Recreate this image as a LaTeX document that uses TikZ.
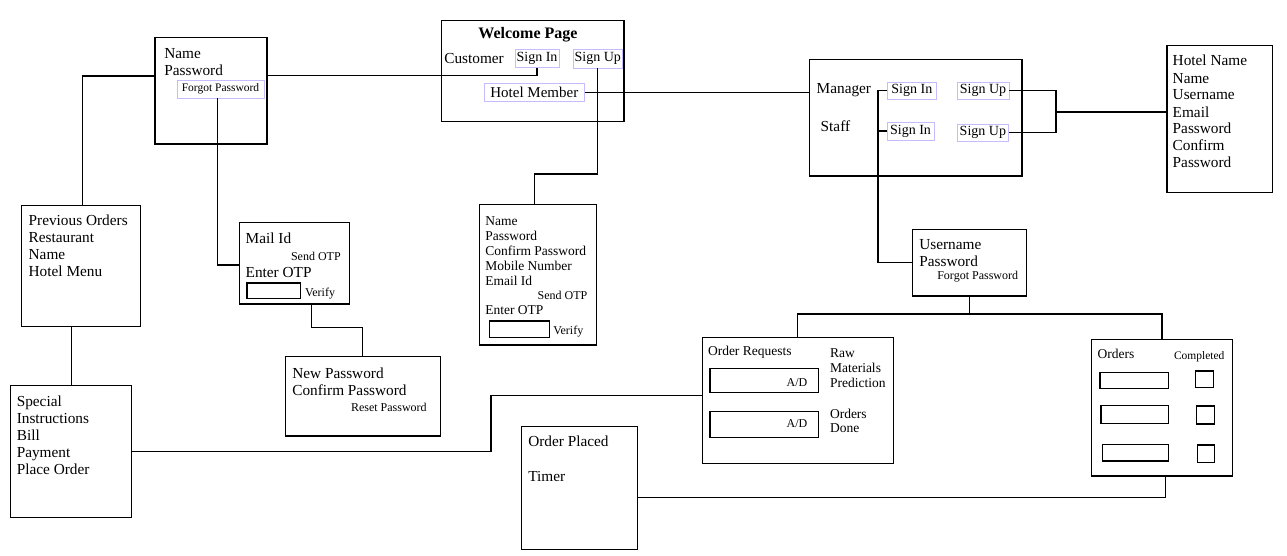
\documentclass[tikz,border=0pt]{standalone}
\usepackage{fontspec}
\setmainfont{Liberation Serif}
\newcommand{\fs}[2]{\fontsize{#1}{#2}\selectfont}
\definecolor{lav}{RGB}{196,188,255}
\newcommand{\mybox}[7]{\node[#1, minimum width={#5pt-#3pt}, minimum height={#6pt-#4pt}] (#2) at ({(#3+#5)/2},{(#4+#6)/2}) {#7};}
\tikzset{
  box/.style={draw=black, line width=1.2pt, inner sep=0pt, outer sep=0pt},
  pbox/.style={draw=lav, line width=0.9pt, inner sep=0pt, outer sep=0pt, font=\fs{14}{16}},
  pboxs/.style={pbox, font=\fs{11.5}{13}},
  wire/.style={line width=1.2pt, draw=black},
  txt/.style={anchor=base west, inner sep=0pt, outer sep=0pt, align=left, font=\fs{15.3}{17}},
  txtm/.style={txt, font=\fs{13.5}{15}},
  txts/.style={txt, font=\fs{12}{14}},
  txtse/.style={txts, anchor=base east},
}
\begin{document}
\begin{tikzpicture}[x=1pt, y=-1pt]
\fill[white] (0,0) rectangle (1287,556);
\useasboundingbox (0,0) rectangle (1287,556);

% boxes
\mybox{box}{login}{155}{37.7}{267}{144}{}
\mybox{pboxs}{fpw}{177}{80}{264}{98}{Forgot Password}
\mybox{box}{welcome}{441.7}{20.3}{624}{121.7}{}
\mybox{pbox}{wsi}{515}{49}{559}{67.7}{Sign In}
\mybox{pbox}{wsu}{573.7}{49}{622}{68}{Sign Up}
\mybox{pbox}{hm}{484}{83}{584.7}{101.7}{\fs{15}{17}Hotel Member}
\mybox{box}{mgr}{809.3}{59.3}{1022}{176}{}
\mybox{pbox}{msi}{887}{82}{936.7}{99.3}{Sign In}
\mybox{pbox}{msu}{957}{82}{1009}{99.3}{Sign Up}
\mybox{pbox}{ssi}{887}{122}{934}{140}{Sign In}
\mybox{pbox}{ssu}{957}{124}{1008.7}{141}{Sign Up}
\mybox{box}{hreg}{1167}{45.3}{1272.7}{192.3}{}
\mybox{box}{prev}{21.3}{205.3}{140.7}{326.3}{}
\mybox{box}{spec}{10.7}{385.5}{131.7}{517.3}{}
\mybox{box}{mail}{239.3}{222.7}{349.3}{304}{}
\mybox{box}{otpin}{247}{283}{300.3}{298.3}{}
\mybox{box}{newpw}{285.3}{356.7}{440.3}{436}{}
\mybox{box}{reg}{479.3}{204.3}{596.7}{345}{}
\mybox{box}{regin}{489.3}{321}{549.3}{337.3}{}
\mybox{box}{user}{912.3}{229.3}{1026.7}{296}{}
\mybox{box}{oreq}{702.3}{337.7}{893.3}{463.3}{}
\mybox{box}{ad1}{710}{368.3}{818.3}{392.3}{}
\mybox{box}{ad2}{710}{411.3}{818.3}{437.3}{}
\mybox{box}{orders}{1091.7}{339.3}{1232.3}{476}{}
\mybox{box}{r1}{1100}{372.3}{1168.3}{388.3}{}
\mybox{box}{r2}{1101}{405.3}{1168.3}{423.3}{}
\mybox{box}{r3}{1102.3}{444.3}{1168.3}{461}{}
\mybox{box}{s1}{1195.3}{371}{1213.3}{387.3}{}
\mybox{box}{s2}{1196.3}{406}{1214.3}{424}{}
\mybox{box}{s3}{1197.3}{445}{1214.3}{462.3}{}
\mybox{box}{oplaced}{521.3}{426.3}{637.3}{549.3}{}

% texts (base anchor = baseline of last line)
\node[txt] (tlogin) at (164.3,75.3) {Name\\Password};
\node[anchor=base, inner sep=0pt, font=\bfseries\fs{16}{18}] (twelcome) at (528,38.3) {Welcome Page};
\node[txt] (tcust) at (444.3,63.3) {Customer};
\node[txt] (tmgr) at (816.7,94) {Manager};
\node[txt] (tstaff) at (820.7,132) {Staff};
\node[txt] (threg) at (1172.7,168) {Hotel Name\\Name\\Username\\Email\\Password\\Confirm\\Password};
\node[txt] (tprev) at (28.7,276) {Previous Orders\\Restaurant\\Name\\Hotel Menu};
\node[txt] (tspec) at (16.8,474) {Special\\Instructions\\Bill\\Payment\\Place Order};
\node[txt] (tmail) at (245.7,243.3) {Mail Id};
\node[txtse] (tsend1) at (340.7,260) {Send OTP};
\node[txt] (tenter1) at (245.7,277.3) {Enter OTP};
\node[txts] (tver1) at (305,296.7) {Verify};
\node[txt] (tnewpw) at (292.3,395.3) {New Password\\Confirm Password};
\node[txtse] (treset) at (426.7,411.7) {Reset Password};
\node[txtm] (treg) at (485.3,285) {Name\\Password\\Confirm Password\\Mobile Number\\Email Id};
\node[txtse] (tsend2) at (587.3,299) {Send OTP};
\node[txtm] (tenter2) at (485.3,314) {Enter OTP};
\node[txts] (tver2) at (553.3,334.3) {Verify};
\node[txt] (tuser) at (919.3,266.3) {Username\\Password};
\node[txts] (tfpw2) at (937.3,279) {Forgot Password};
\node[txtm] (toreq) at (708,355.7) {Order Requests};
\node[txtm] (traw) at (830,387.3) {Raw\\Materials\\Prediction};
\node[txtm, font=\fs{13.5}{14}] (tdone) at (830,432.3) {Orders\\Done};
\node[txtse] (tad1) at (807.3,386) {A/D};
\node[txtse] (tad2) at (807.3,427.7) {A/D};
\node[txtm] (torders) at (1097.7,358.3) {Orders};
\node[txts, font=\fs{11.5}{13}] (tcompl) at (1174,359) {Completed};
\node[txt] (tplaced) at (528.3,446.7) {Order Placed};
\node[txt] (ttimer) at (528.3,481) {Timer};

% connectors
\draw[wire] (login.east |- 0,75.3) -| (wsi.south);
\draw[wire] (login.west |- 0,76) -| ([xshift=1.7pt]prev.north);
\draw[wire] (spec.north) -- (spec.north |- prev.south);
\draw[wire] ([xshift=-2.8pt]fpw.south) |- ([yshift=-1.6pt]mail.west);
\draw[wire] ([xshift=17pt]mail.south) -- ++(0,23.3) -| (newpw.north);
\draw[wire] (wsu.south) -- (wsu.south |- 0,174) -| ([xshift=-3.7pt]reg.north);
\draw[wire] (hm.east) -- (hm.east -| mgr.west);
\draw[wire] (msi.west) -- ++(-9,0) |- (user.west);
\draw[wire] (ssi.west) -- ++(-9,0);
\coordinate (j1) at (1056,112);
\draw[wire] (msu.east) -| (j1) |- (ssu.east);
\draw[wire] (j1) -- (j1 -| hreg.west);
\coordinate (j2) at (user.south |- 0,314);
\draw[wire] (user.south) -- (j2);
\draw[wire] (oreq.north) |- (j2) -| (orders.north);
\draw[wire] (spec.east) -- (spec.east -| 491,0) |- ([yshift=4.8pt]oreq.west);
\draw[wire] ([xshift=3.3pt]orders.south) |- ([yshift=-9.5pt]oplaced.east);
\end{tikzpicture}
\end{document}
